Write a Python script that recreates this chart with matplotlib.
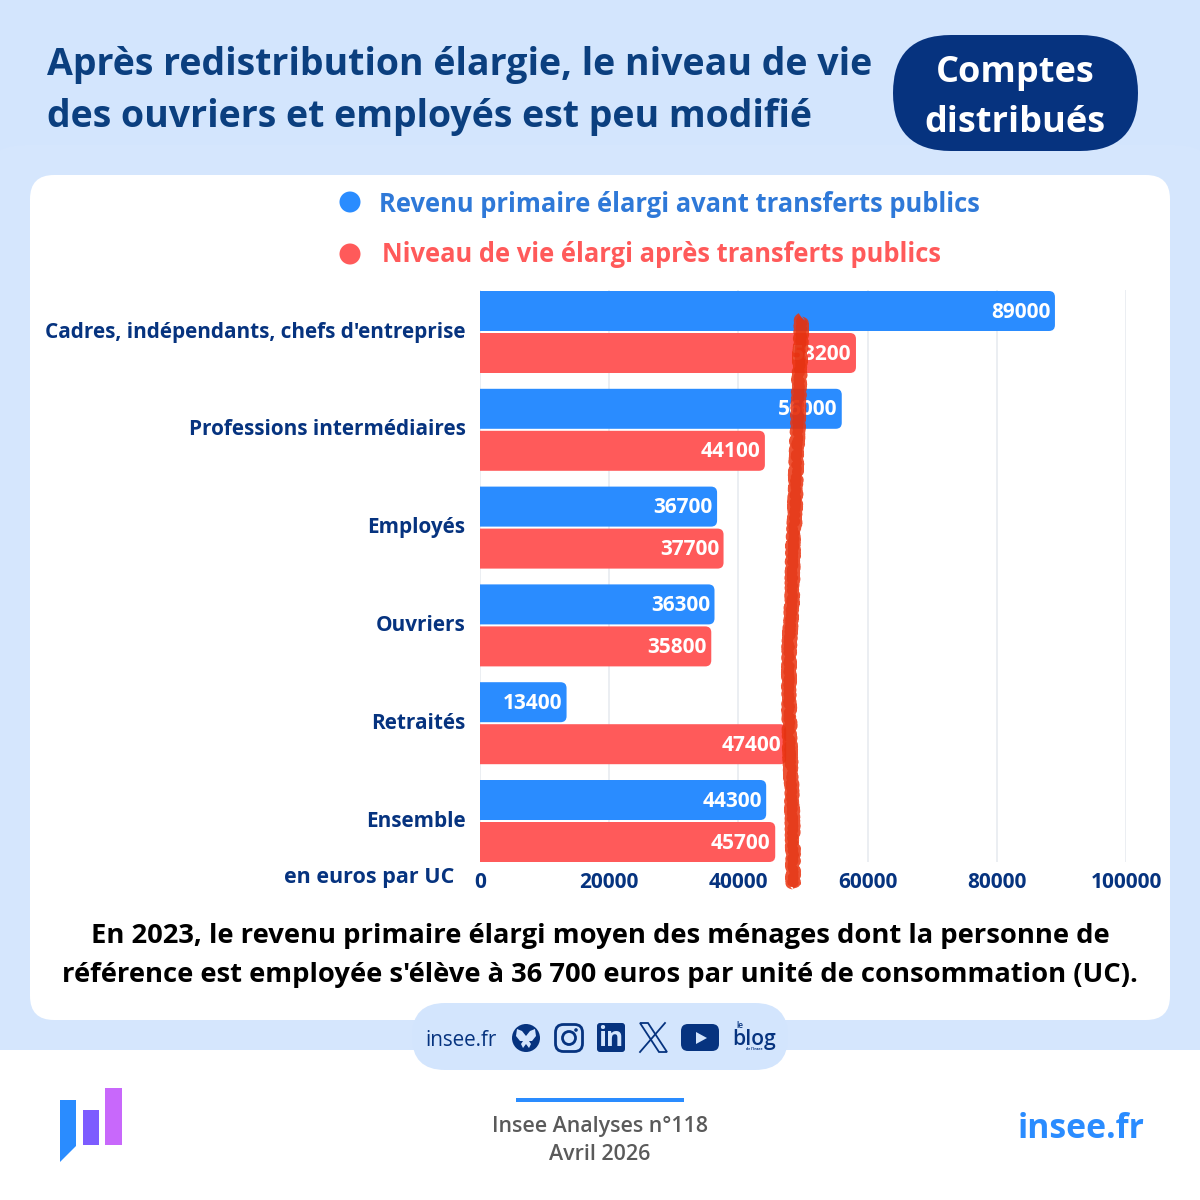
import matplotlib
matplotlib.use("Agg")
import matplotlib.pyplot as plt
from matplotlib.patches import FancyBboxPatch, Circle, Polygon, Rectangle

plt.rcParams['font.family'] = ['Open Sans', 'DejaVu Sans']
plt.rcParams['font.weight'] = 'bold'

categories = ["Cadres, indépendants, chefs d'entreprise", "Professions intermédiaires",
              "Employés", "Ouvriers", "Retraités", "Ensemble"]
avant = [89000, 56000, 36700, 36300, 13400, 44300]
apres = [58200, 44100, 37700, 35800, 47400, 45700]
x_ticks = [0, 20000, 40000, 60000, 80000, 100000]

# hand drawn red line, x and y in pixels of the picture
scribble_x = [802, 800, 798, 796, 795, 793, 792, 789, 789, 790, 792, 793, 793]
scribble_y = [318, 360, 420, 470, 510, 550, 600, 650, 700, 750, 800, 850, 886]

BG = '#d3e5fd'
NAVY = '#06337f'
TITLE = '#0b3f7f'
BLUE = '#2a8cff'
RED = '#ff5a5a'
GRID = '#e8ebf0'


def rbox(ax, x0, y0, x1, y1, r, **kw):
    ax.add_patch(FancyBboxPatch((x0 + r, y0 + r), x1 - x0 - 2 * r, y1 - y0 - 2 * r,
                                boxstyle=f"round,pad={r},rounding_size={r}", linewidth=0, **kw))


fig = plt.figure(figsize=(12, 12), dpi=100, facecolor=BG)

# background, in pixel coordinates
bg = fig.add_axes([0, 0, 1, 1], zorder=0)
bg.set_xlim(0, 1200)
bg.set_ylim(1200, 0)
bg.axis('off')
rbox(bg, -20, 145, 1220, 1070, 45, facecolor='#d5e6fd')
bg.add_patch(Rectangle((0, 1050), 1200, 150, facecolor='white', linewidth=0))
rbox(bg, 30, 175, 1170, 1020, 24, facecolor='white')
rbox(bg, 412, 1003, 788, 1070, 33, facecolor=BG)
rbox(bg, 893, 35, 1138, 151, 58, facecolor=NAVY)

bg.text(47, 65, "Après redistribution élargie, le niveau de vie", fontsize=27.03, color=TITLE, va='center')
bg.text(47, 117, "des ouvriers et employés est peu modifié", fontsize=27.03, color=TITLE, va='center')
bg.text(1015, 73, "Comptes", fontsize=26, color='white', ha='center', va='center')
bg.text(1015, 123, "distribués", fontsize=26, color='white', ha='center', va='center')

# legend
bg.add_patch(Circle((350, 202), 10.5, facecolor=BLUE, linewidth=0))
bg.add_patch(Circle((350, 254), 10.5, facecolor=RED, linewidth=0))
bg.text(379, 204, "Revenu primaire élargi avant transferts publics", fontsize=18.4, color='#2f79d8', va='center')
bg.text(382, 254, "Niveau de vie élargi après transferts publics", fontsize=18.4, color=RED, va='center')

bg.text(600, 936, "En 2023, le revenu primaire élargi moyen des ménages dont la personne de",
        fontsize=19.75, color='black', ha='center', va='center')
bg.text(600, 975, "référence est employée s'élève à 36 700 euros par unité de consommation (UC).",
        fontsize=19.75, color='black', ha='center', va='center')
bg.text(454, 878, "en euros par UC", fontsize=15.5, color=NAVY, ha='right', va='center')

# social icons
bg.text(461.5, 1040, "insee.fr", fontsize=14.9, color=NAVY, ha='center', va='center', fontweight='medium')
bg.add_patch(Circle((526, 1038), 14, facecolor=NAVY, linewidth=0))
bg.add_patch(Polygon([[526, 1036], [522, 1031], [517, 1029], [516, 1036], [520, 1041], [523, 1041],
                      [521, 1044], [523, 1048], [526, 1044], [529, 1048], [531, 1044], [529, 1041],
                      [532, 1041], [536, 1036], [535, 1029], [530, 1031]], facecolor=BG, linewidth=0))
bg.add_patch(FancyBboxPatch((555.5, 1024.5), 27, 27, boxstyle="round,pad=0,rounding_size=8",
                            facecolor='none', edgecolor=NAVY, linewidth=2))
bg.add_patch(Circle((569, 1038), 6.5, facecolor='none', edgecolor=NAVY, linewidth=2))
bg.add_patch(Circle((576, 1030), 1.8, facecolor=NAVY, linewidth=0))
rbox(bg, 597, 1023, 625, 1052, 3, facecolor=NAVY)
bg.text(611, 1039, "in", fontsize=19, color=BG, ha='center', va='center', fontweight='bold')
bg.add_patch(Polygon([[640, 1023], [648, 1023], [667, 1052], [659, 1052]], facecolor='none',
                     edgecolor=NAVY, linewidth=1.3))
bg.plot([665, 640], [1023, 1052], color=NAVY, linewidth=1.3)
rbox(bg, 681, 1024, 719, 1051, 7, facecolor=NAVY)
bg.add_patch(Polygon([[696, 1032], [696, 1044], [707, 1038]], facecolor=BG, linewidth=0))
bg.text(754, 1039, "blog", fontsize=15.2, color=NAVY, ha='center', va='center', fontweight='semibold')
bg.text(740, 1026, "le", fontsize=6, color=NAVY, ha='center', va='center', fontweight='semibold')
bg.text(754, 1049, "de l'Insee", fontsize=2.5, color=NAVY, ha='center', va='center')

# footer
bg.add_patch(Rectangle((516, 1098), 168, 4, facecolor=BLUE, linewidth=0))
bg.text(600, 1126, "Insee Analyses n°118", fontsize=15.4, color='#5a5a5a', ha='center', va='center', fontweight='semibold')
bg.text(600, 1155, "Avril 2026", fontsize=15.4, color='#5a5a5a', ha='center', va='center', fontweight='semibold')
bg.text(1144.5, 1129, "insee.fr", fontsize=24.3, color=BLUE, ha='right', va='center')

# logo
bg.add_patch(Polygon([[60, 1100], [76, 1100], [76, 1146], [60, 1162]], facecolor=BLUE, linewidth=0))
bg.add_patch(Rectangle((83, 1110), 16, 35, facecolor='#7d5cff', linewidth=0))
bg.add_patch(Rectangle((105, 1088), 17, 57, facecolor='#c868fb', linewidth=0))

# chart, axes goes from 480 to 1126 px and 290 to 862 px
row = 97.8
ax = fig.add_axes([480 / 1200, 1 - 862 / 1200, 646 / 1200, 572 / 1200], zorder=1)
ax.patch.set_alpha(0)
ax.set_xlim(0, 100000)
ax.set_ylim((862 - 332) / row, (290 - 332) / row)
for s in ax.spines.values():
    s.set_visible(False)

bar_h = 40 / row
offset = 21 / row
aspect = (1 / row) / (100000 / 646)  # y units per px over x units per px
radius = 6 * 100000 / 646


def draw_bars(values, ypos, color):
    for v, y in zip(values, ypos):
        ax.add_patch(FancyBboxPatch((-2000, y - bar_h / 2), v + 2000, bar_h,
                                    boxstyle=f"round,pad=0,rounding_size={radius}",
                                    mutation_aspect=aspect, facecolor=color, linewidth=0, zorder=2))
        ax.text(v - 700, y + 1 / row, str(v), color='white', fontsize=15, ha='right', va='center', zorder=3)


ypos = list(range(len(categories)))
draw_bars(avant, [y - offset for y in ypos], BLUE)
draw_bars(apres, [y + offset for y in ypos], RED)

ax.set_xticks(x_ticks)
ax.set_xticklabels([str(t) for t in x_ticks], fontsize=15, color=NAVY)
ax.set_yticks(ypos)
ax.set_yticklabels(categories, fontsize=14.95, color=NAVY, va='center')
ax.tick_params(axis='both', length=0)
ax.tick_params(axis='y', pad=10.5)
ax.tick_params(axis='x', pad=7)
ax.grid(axis='x', color=GRID, linewidth=1.2, zorder=0)
ax.set_axisbelow(True)

# red line on top of everything
top = fig.add_axes([0, 0, 1, 1], zorder=2)
top.patch.set_alpha(0)
top.set_xlim(0, 1200)
top.set_ylim(1200, 0)
top.axis('off')
line, = top.plot(scribble_x, scribble_y, color='#ea3410', linewidth=8.5, solid_capstyle='butt', alpha=0.85)
line.set_sketch_params(scale=2.2, length=2.5, randomness=4)
line2, = top.plot(scribble_x, scribble_y, color='#e2300e', linewidth=5.5, solid_capstyle='butt', alpha=0.6)
line2.set_sketch_params(scale=2.0, length=3, randomness=6)

fig.savefig("out.png", dpi=100, facecolor=BG)
